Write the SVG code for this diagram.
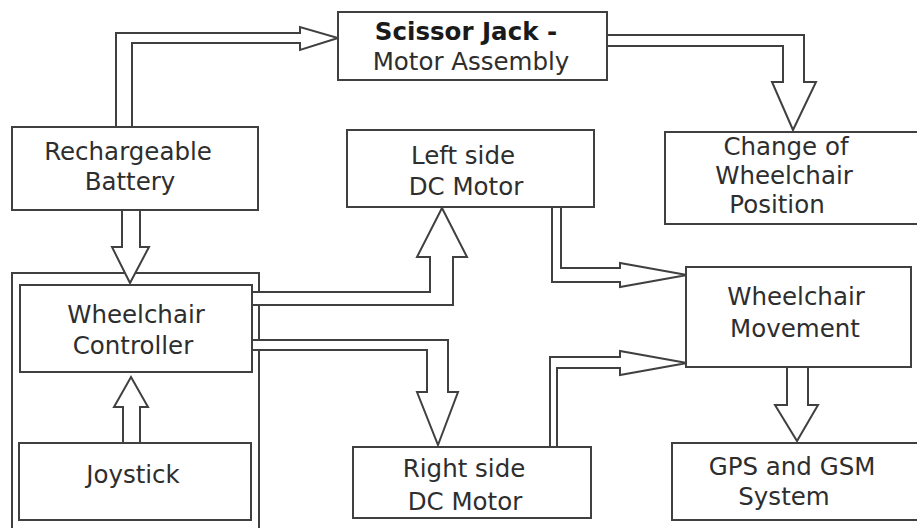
<svg xmlns="http://www.w3.org/2000/svg" width="917" height="528" viewBox="0 0 917 528">
<style>
.box{fill:#fff;stroke:#404040;stroke-width:2}
.arr{fill:#fff;stroke:#404040;stroke-width:2;stroke-linejoin:miter}
text{font-family:"DejaVu Sans","Open Sans",sans-serif;font-size:24.5px;fill:#2e2e2e;text-anchor:middle}
.b{font-weight:bold;fill:#1a1a1a}
</style>
<rect width="917" height="528" fill="#fff"/>
<g id="outer-group"><rect class="box" x="12" y="273" width="247" height="265"/></g>
<g id="connectors">
<path class="arr" d="M116,127 V33 H300 V27 L338,38 L300,50 V43 H132 V127"/>
<path class="arr" d="M607,35 H804 V82 H816 L793,130 L772,82 H783 V46 H607"/>
<path class="arr" d="M122,210 V247 H112 L130,283 L149,247 H140 V210"/>
<path class="arr" d="M123,443 V407 H114 L131,377 L148,407 H140 V443"/>
<path class="arr" d="M252,292 H430 V257 H417 L442,208 L467,257 H453 V305 H252"/>
<path class="arr" d="M252,340 H448 V392 H458 L438,445 L417,392 H427 V350 H252"/>
<path class="arr" d="M552,207 V282 H620 V287 L687,275 L620,263 V268 H561 V207"/>
<path class="arr" d="M550,447 V357 H620 V351 L687,363 L620,375 V368 H557 V447"/>
<path class="arr" d="M787,367 V405 H775 L797,441 L818,405 H808 V367"/>
</g>
<g id="scissor"><rect class="box" x="338" y="12" width="269" height="68"/><text class="b" x="466" y="40">Scissor Jack -</text><text x="471" y="70">Motor Assembly</text></g>
<g id="battery"><rect class="box" x="12" y="127" width="246" height="83"/><text x="128" y="160">Rechargeable</text><text x="130" y="190">Battery</text></g>
<g id="left-motor"><rect class="box" x="347" y="130" width="247" height="77"/><text x="463" y="164">Left side</text><text x="466" y="195">DC Motor</text></g>
<g id="change"><rect class="box" x="665" y="132" width="270" height="92"/><text x="786" y="155">Change of</text><text x="784" y="184">Wheelchair</text><text x="777" y="213">Position</text></g>
<g id="controller"><rect class="box" x="20" y="285" width="232" height="87"/><text x="136" y="323">Wheelchair</text><text x="133" y="354">Controller</text></g>
<g id="joystick"><rect class="box" x="19" y="443" width="232" height="77"/><text x="133" y="483">Joystick</text></g>
<g id="movement"><rect class="box" x="686" y="267" width="225" height="100"/><text x="796" y="305">Wheelchair</text><text x="795" y="337">Movement</text></g>
<g id="right-motor"><rect class="box" x="353" y="447" width="238" height="71"/><text x="464" y="477">Right side</text><text x="465" y="510">DC Motor</text></g>
<g id="gps"><rect class="box" x="672" y="443" width="265" height="77"/><text x="792" y="475">GPS and GSM</text><text x="784" y="505">System</text></g>
</svg>
